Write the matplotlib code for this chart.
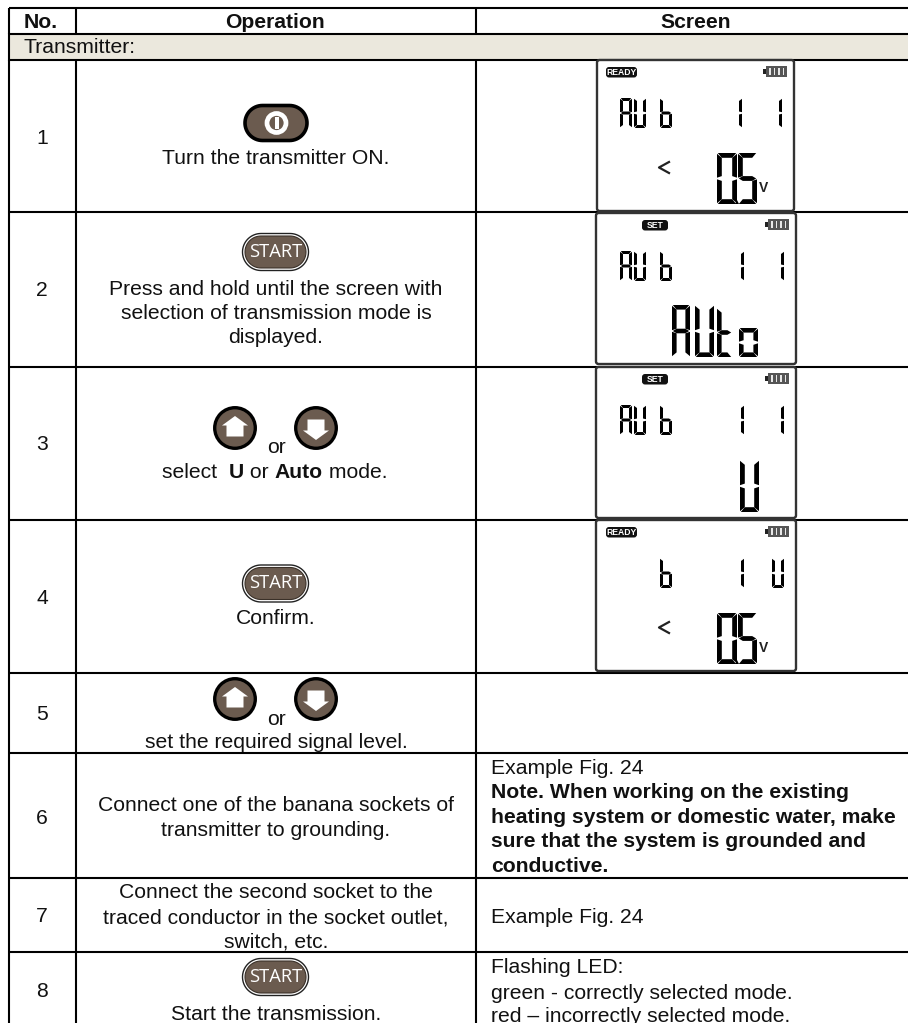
# Measurement procedure table: table grid, buttons and LCD screens in pixel coords
import matplotlib
matplotlib.use("Agg")
import numpy as np
import matplotlib.pyplot as plt
from matplotlib.patches import Circle, FancyBboxPatch, Polygon, Rectangle

W, H = 908, 1023
plt.rcParams['font.family'] = ['Liberation Sans', 'DejaVu Sans']

# --- Table content ---
headers = ["No.", "Operation", "Screen"]
section = "Transmitter:"
row_numbers = ["1", "2", "3", "4", "5", "6", "7", "8"]
number_y = [137, 289, 443, 597, 713, 817, 915, 990]
h_lines = [8, 34, 60, 212, 367, 520, 673, 753, 878, 952]
v_lines = [9, 76, 476]

operation_lines = [("Turn the transmitter ON.", 157),
                   ("Press and hold until the screen with", 288),
                   ("selection of transmission mode is", 312),
                   ("displayed.", 336),
                   ("or", 446),
                   ("Confirm.", 617),
                   ("or", 718),
                   ("set the required signal level.", 741),
                   ("Connect one of the banana sockets of", 804),
                   ("transmitter to grounding.", 829),
                   ("Connect the second socket to the", 891),
                   ("traced conductor in the socket outlet,", 916),
                   ("switch, etc.", 941),
                   ("Start the transmission.", 1013)]
select_parts = [("select  ", "normal"), ("U", "bold"), (" or ", "normal"),
                ("Auto", "bold"), (" mode.", "normal")]

screen_lines = [("Example Fig. 24", 767, "normal"),
                ("Note. When working on the existing", 791, "bold"),
                ("heating system or domestic water, make", 816, "bold"),
                ("sure that the system is grounded and", 840, "bold"),
                ("conductive.", 865, "bold"),
                ("Example Fig. 24", 916, "normal"),
                ("Flashing LED:", 966, "normal"),
                ("green - correctly selected mode.", 992, "normal"),
                ("red – incorrectly selected mode.", 1015, "normal")]

# --- LCD screens ---
lcd_tops = [60, 213, 367, 520]
lcd_tags = ["READY", "SET", "SET", "READY"]
small_rows = [[("A", 620), ("U", 634), ("b", 660), ("1", 733), ("1", 773)],
              [("A", 620), ("U", 634), ("b", 660), ("1", 735), ("1", 775)],
              [("A", 620), ("U", 634), ("b", 660), ("1", 735), ("1", 775)],
              [("b", 660), ("1", 735), ("U", 772)]]

SEGMENTS = {"A": "abcefg", "U": "bcdef", "b": "cdefg", "1": "bc", "0": "abcdef",
            "5": "acdfg", "t": "defg", "o": "abcdef"}
BROWN = "#6b5b4f"
TEXT = "#111111"
FS = 15.2
DY = 1.5  # va=center sits a bit high for this font

fig = plt.figure(figsize=(W / 100, H / 100), dpi=100)
ax = fig.add_axes([0, 0, 1, 1])
ax.set_xlim(0, W)
ax.set_ylim(H, 0)
ax.axis("off")


def lcd_char(ch, x, y, w, h, t):
    # one seven segment character, x,y is the top left corner
    g = 0.8
    m = y + h / 2
    segs = {"a": [(x + g, y), (x + w - g, y), (x + w - t, y + t), (x + t, y + t)],
            "d": [(x + t, y + h - t), (x + w - t, y + h - t), (x + w - g, y + h), (x + g, y + h)],
            "f": [(x, y + g), (x + t, y + t), (x + t, m - t / 2), (x, m - g)],
            "e": [(x, m + g), (x + t, m + t / 2), (x + t, y + h - t), (x, y + h - g)],
            "b": [(x + w, y + g), (x + w - t, y + t), (x + w - t, m - t / 2), (x + w, m - g)],
            "c": [(x + w, m + g), (x + w - t, m + t / 2), (x + w - t, y + h - t), (x + w, y + h - g)],
            "g": [(x + g, m), (x + t, m - t / 2), (x + w - t, m - t / 2), (x + w - g, m),
                  (x + w - t, m + t / 2), (x + t, m + t / 2)]}
    for s in SEGMENTS[ch]:
        ax.add_patch(Polygon(segs[s], closed=True, fc="black", ec="none", zorder=5))


def pill(x0, y0, x1, y1, fc, ec, lw, z=3):
    r = (y1 - y0) / 2
    cy = (y0 + y1) / 2
    a = np.linspace(-np.pi / 2, np.pi / 2, 30)
    xs = np.r_[x1 - r + r * np.cos(a), x0 + r - r * np.cos(a)[::-1]]
    ys = np.r_[cy + r * np.sin(a), cy + r * np.sin(a)[::-1]]
    ax.add_patch(Polygon(np.c_[xs, ys], closed=True, fc=fc, ec=ec, lw=lw, zorder=z))


def start_button(y0):
    pill(242.5, y0, 308.5, y0 + 37, "white", "#222222", 1.0)
    pill(245, y0 + 2.5, 306, y0 + 34.5, BROWN, "#3a3028", 0.8, z=4)
    ax.text(275.5, y0 + 18.5, "START", color="white", fontsize=13.2, ha="center", va="center",
            family=["Open Sans", "DejaVu Sans"], zorder=5)


def arrow_button(cx, cy, up):
    ax.add_patch(Circle((cx, cy), 20.3, fc=BROWN, ec="black", lw=2.4, zorder=3))
    s = -1 if up else 1
    pts = [(0, 12 * s), (13, 2.5 * s), (8.5, 2.5 * s), (8.5, -8.5 * s),
           (-8.5, -8.5 * s), (-8.5, 2.5 * s), (-13, 2.5 * s)]
    ax.add_patch(Polygon([(cx + a, cy + b) for a, b in pts], closed=True, fc="white",
                         ec="none", zorder=4))


# --- Grid ---
ax.add_patch(Rectangle((9, 34), W - 9, 26, fc="#ebe8dd", ec="none", zorder=0))
for y in h_lines:
    ax.plot([v_lines[0], W], [y, y], color="black", lw=1.5, solid_capstyle="butt", zorder=1)
for x in v_lines:
    ax.plot([x, x], [8, 34], color="black", lw=1.5, solid_capstyle="butt", zorder=1)
    ax.plot([x, x], [60, H], color="black", lw=1.5, solid_capstyle="butt", zorder=1)
ax.plot([9, 9], [34, 60], color="black", lw=1.5, zorder=1)

# --- Headers and text ---
for s, x in zip(headers, [41, 275, 696]):
    ax.text(x, 21 + DY, s, ha="center", va="center", fontsize=FS, weight="bold", color=TEXT)
ax.text(24, 46 + DY, section, ha="left", va="center", fontsize=FS, color=TEXT)

for s, y in zip(row_numbers, number_y):
    ax.text(42, y + DY, s, ha="center", va="center", fontsize=FS, color=TEXT)
for s, y in operation_lines:
    ax.text(276, y + DY, s, ha="center", va="center", fontsize=FS, color=TEXT)

# mixed bold line of row 3
renderer = fig.canvas.get_renderer()
x = 162.0
for s, w in select_parts:
    p = ax.text(x, 471 + DY, s, ha="left", va="center", fontsize=FS, color=TEXT, weight=w)
    x += p.get_window_extent(renderer).width

for s, y, w in screen_lines:
    ax.text(491, y + DY, s, ha="left", va="center", fontsize=FS, color=TEXT, weight=w)

# --- Buttons ---
pill(245, 105.5, 307, 140.5, BROWN, "black", 2.6)
ax.add_patch(Circle((276.5, 123), 9.5, fc=BROWN, ec="white", lw=3.4, zorder=4))
ax.add_patch(Rectangle((274.5, 117), 4, 12, fc="white", ec="none", zorder=5))

start_button(233.5)
start_button(565)
start_button(958.5)
arrow_button(235, 428, True)
arrow_button(316, 428, False)
arrow_button(235, 699, True)
arrow_button(316, 699, False)

# --- LCD screens ---
for i, (top, tag, row) in enumerate(zip(lcd_tops, lcd_tags, small_rows)):
    left = 597 if i == 0 else 596
    right = 794 if i == 0 else 796
    ax.add_patch(FancyBboxPatch((left, top), right - left, 151,
                                boxstyle="round,pad=0,rounding_size=2.5", fc="white",
                                ec="#333333", lw=1.7, zorder=2))
    # status tag
    if tag == "READY":
        tx0, tx1 = 606, 637
    else:
        tx0, tx1 = 642, 668
    ax.add_patch(FancyBboxPatch((tx0, top + 7), tx1 - tx0, 10.5,
                                boxstyle="round,pad=0,rounding_size=3", fc="#111111",
                                ec="none", zorder=3))
    ax.text((tx0 + tx1) / 2, top + 12.5, tag, ha="center", va="center", color="white",
            fontsize=6.2, weight="bold", zorder=4)
    # battery
    bx = 763 if i == 0 else 765
    ax.add_patch(Rectangle((bx, top + 9), 2.5, 5, fc="#222222", ec="none", zorder=3))
    ax.add_patch(Rectangle((bx + 2.5, top + 6), 21, 10.5, fc="#555555", ec="none", zorder=3))
    for k in range(4):
        ax.add_patch(Rectangle((bx + 6 + k * 4.5, top + 8), 1.6, 6.5, fc="#e8e8e8",
                               ec="none", zorder=4))
    # small digits
    for ch, cx in row:
        w = 12 if ch != "1" else 9
        lcd_char(ch, cx, top + 38, w, 30, 3.0)

# big characters
for top in [lcd_tops[0], lcd_tops[3]]:
    lcd_char("0", 717, top + 93, 20, 51, 4.8)
    lcd_char("5", 738, top + 93, 19, 51, 4.8)
    ax.add_patch(Polygon([(735, top + 144), (737, top + 140), (739, top + 144)], closed=True,
                         fc="black", ec="none", zorder=5))
    ax.text(763.5, top + 128, "V", ha="center", va="center", fontsize=10, weight="bold",
            color="#222222", zorder=5)
    ax.plot([669, 659, 669], [top + 102, top + 107.5, top + 113], color="#222222", lw=1.6, zorder=5)

auto_top = lcd_tops[1] + 92
lcd_char("A", 672, auto_top, 18, 52, 4.6)
lcd_char("U", 695, auto_top, 19, 52, 4.6)
lcd_char("t", 717, auto_top + 3, 15, 49, 4.6)
lcd_char("o", 739, auto_top + 23, 19, 29, 4.6)
lcd_char("U", 740, lcd_tops[2] + 93, 19, 52, 4.8)

fig.savefig("out.png", dpi=100)
